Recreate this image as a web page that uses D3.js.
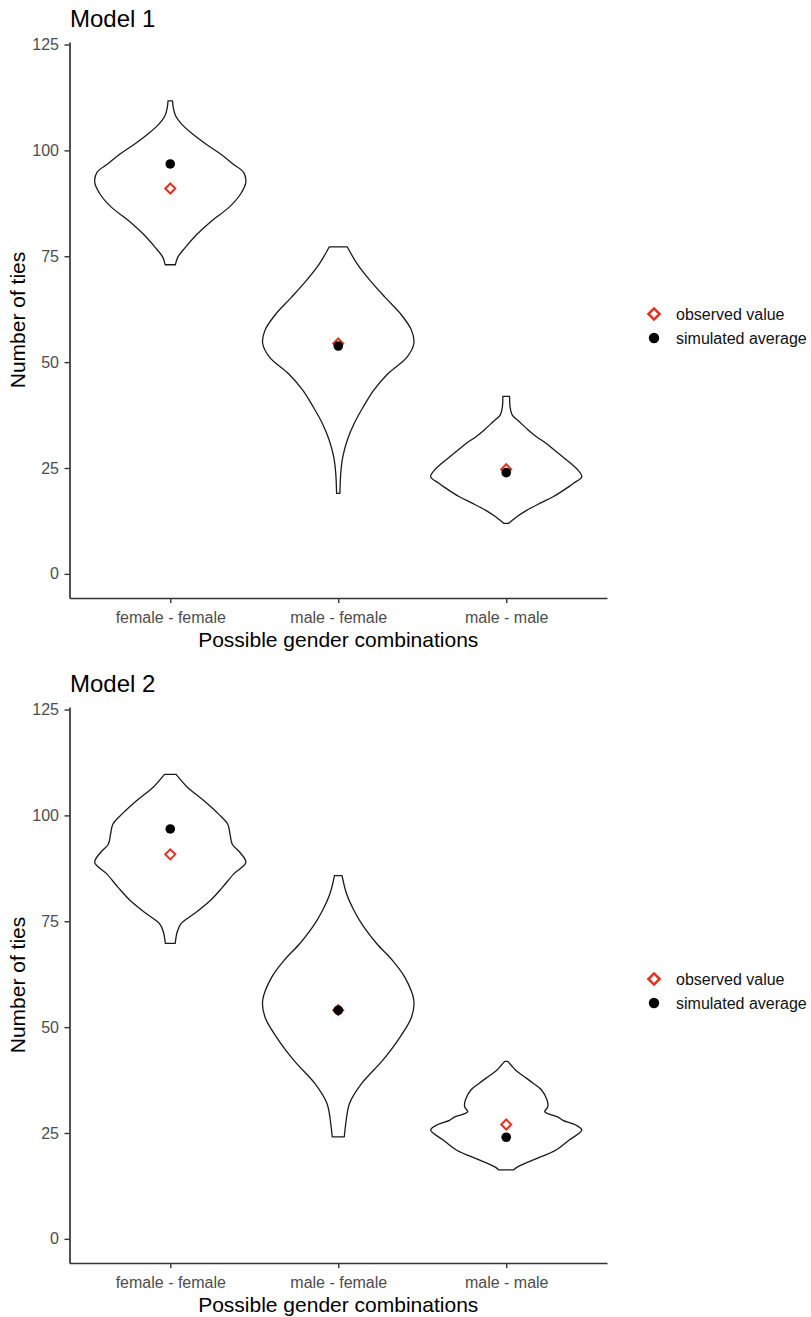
<!DOCTYPE html>
<html>
<head>
<meta charset="utf-8">
<script src="https://cdn.jsdelivr.net/npm/d3@7"></script>
<style>
  html, body { margin: 0; padding: 0; background: #fff; }
  svg { display: block; font-family: "Liberation Sans", Arial, sans-serif; }
</style>
</head>
<body>
<svg id="chart" width="811" height="1317"></svg>
<script>
// ---------------- DATA ----------------
const categories = ["female - female", "male - female", "male - male"];
const yTicks = [0, 25, 50, 75, 100, 125];
const modelTitles = ["Model 1", "Model 2"];
const legendLabels = ["observed value", "simulated average"];
const xAxisTitle = "Possible gender combinations";
const yAxisTitle = "Number of ties";

const observedM1 = [91.0, 54.4, 24.7];
const simulatedM1 = [96.8, 53.8, 23.9];
const observedM2 = [90.8, 54.0, 27.0];
const simulatedM2 = [96.8, 54.0, 24.0];

// violin profiles: [number of ties, relative density (max = 1)]
const violinM1FF = [[111.7,0.03],[110.1,0.04],[108.2,0.07],[106.2,0.15],[103.8,0.30],[101.5,0.47],[99.1,0.67],[96.8,0.83],[94.8,0.97],[92.5,1.0],[89.7,0.93],[86.6,0.78],[83.4,0.55],[80.3,0.36],[77.1,0.20],[74.8,0.10],[73.0,0.068]];
const violinM1MF = [[77.2,0.12],[73.2,0.25],[69.3,0.42],[65.3,0.62],[61.5,0.82],[57.5,0.97],[54.4,1.0],[51.2,0.91],[47.3,0.66],[43.4,0.47],[39.4,0.33],[35.5,0.21],[31.6,0.12],[27.6,0.06],[23.7,0.033],[19.0,0.022]];
const violinM1MM = [[41.9,0.045],[39.5,0.05],[37.5,0.08],[36.0,0.17],[34.0,0.29],[32.4,0.40],[30.8,0.53],[29.2,0.64],[27.6,0.75],[26.0,0.86],[24.5,0.95],[22.9,1.0],[21.5,0.9],[20.6,0.83],[18.2,0.62],[16.7,0.45],[15.0,0.27],[13.5,0.14],[12.5,0.07],[11.9,0.03]];
const violinM2FF = [[109.7,0.077],[106.6,0.23],[103.4,0.45],[100.3,0.64],[97.9,0.76],[95.6,0.79],[93.2,0.82],[91.3,0.92],[88.9,1.0],[86.2,0.84],[83.0,0.69],[79.9,0.53],[76.7,0.31],[74.4,0.14],[72.4,0.09],[69.8,0.066]];
const violinM2MF = [[85.8,0.05],[81.5,0.11],[77.5,0.21],[73.6,0.34],[69.7,0.51],[65.7,0.72],[61.8,0.88],[56.3,1.0],[52.4,0.97],[47.7,0.82],[42.2,0.59],[36.7,0.31],[32.0,0.15],[27.3,0.10],[24.1,0.08]];
const violinM2MM = [[41.9,0.02],[41.0,0.066],[39.8,0.125],[38.3,0.24],[36.7,0.36],[35.1,0.47],[32.8,0.54],[31.2,0.55],[30.0,0.51],[28.8,0.68],[28.0,0.75],[26.9,0.92],[25.7,1.0],[23.3,0.83],[21.0,0.66],[18.6,0.35],[17.0,0.15],[16.3,0.10]];

const panels = [
  { title: modelTitles[0], violins: [violinM1FF, violinM1MF, violinM1MM], observed: observedM1, simulated: simulatedM1 },
  { title: modelTitles[1], violins: [violinM2FF, violinM2MF, violinM2MM], observed: observedM2, simulated: simulatedM2 }
];

// ---------------- LAYOUT ----------------
const svg = d3.select("#chart");
const panelH = 665;
const plotLeft = 69.5, plotRight = 607;
const plotTop = 42, plotBottom = 598;
const red = "#e2321f";
const tickCol = "#4d4d4d";
const axisCol = "#333333";

const x = d3.scalePoint().domain(categories).range([plotLeft, plotRight]).padding(0.6);
const halfWidth = d3.scaleLinear().domain([0, 1]).range([0, 0.45 * x.step()]);

const diamond = (s) => `M0,${-s}L${s},0L0,${s}L${-s},0Z`;

panels.forEach((p, i) => {
  const g = svg.append("g").attr("transform", `translate(0,${i * panelH})`);
  const y = d3.scaleLinear().domain([-5.7, 125.6]).range([plotBottom, plotTop]);

  // title
  g.append("text").attr("x", 70).attr("y", 26.7)
    .attr("font-size", 24).attr("fill", "#000").text(p.title);

  // violins
  p.violins.forEach((v, k) => {
    const cx = x(categories[k]);
    const area = d3.area()
      .y(d => y(d[0]))
      .x0(d => cx - halfWidth(d[1]))
      .x1(d => cx + halfWidth(d[1]))
      .curve(d3.curveCatmullRom.alpha(0.5));
    g.append("path").attr("d", area(v))
      .attr("fill", "#fff").attr("stroke", "#1a1a1a").attr("stroke-width", 1.3)
      .attr("stroke-linejoin", "round");
  });

  // observed (open red diamonds)
  g.selectAll(".obs").data(p.observed).enter().append("path")
    .attr("transform", (d, k) => `translate(${x(categories[k])},${y(d)})`)
    .attr("d", diamond(5))
    .attr("fill", "none").attr("stroke", red).attr("stroke-width", 2);

  // simulated (black dots)
  g.selectAll(".sim").data(p.simulated).enter().append("circle")
    .attr("cx", (d, k) => x(categories[k])).attr("cy", d => y(d))
    .attr("r", 4.8).attr("fill", "#000");

  // y axis
  const ya = g.append("g").attr("transform", `translate(${plotLeft},0)`)
    .call(d3.axisLeft(y).tickValues(yTicks).tickSize(5).tickSizeOuter(0).tickPadding(5.5));
  ya.select(".domain").attr("stroke", axisCol).attr("stroke-width", 1.7);
  ya.selectAll(".tick line").attr("stroke", axisCol).attr("stroke-width", 1.4);
  ya.selectAll(".tick text").attr("fill", tickCol).attr("font-size", 16)
    .attr("font-family", "Liberation Sans, Arial, sans-serif");

  // x axis
  const xa = g.append("g").attr("transform", `translate(0,${plotBottom})`)
    .call(d3.axisBottom(x).tickSize(5).tickSizeOuter(0).tickPadding(9));
  xa.select(".domain").attr("stroke", axisCol).attr("stroke-width", 1.7);
  xa.selectAll(".tick line").attr("stroke", axisCol).attr("stroke-width", 1.4);
  xa.selectAll(".tick text").attr("fill", tickCol).attr("font-size", 16)
    .attr("font-family", "Liberation Sans, Arial, sans-serif");

  // axis titles
  g.append("text").attr("x", (plotLeft + plotRight) / 2).attr("y", 646.7)
    .attr("text-anchor", "middle").attr("font-size", 21).attr("fill", "#000")
    .text(xAxisTitle);
  g.append("text").attr("transform", `translate(25,${(plotTop + plotBottom) / 2}) rotate(-90)`)
    .attr("text-anchor", "middle").attr("font-size", 21).attr("fill", "#000")
    .text(yAxisTitle);

  // legend
  const lg = g.append("g").attr("transform", "translate(654,314)");
  lg.append("path").attr("d", diamond(5.6))
    .attr("fill", "none").attr("stroke", red).attr("stroke-width", 2.5);
  lg.append("circle").attr("cx", 0).attr("cy", 24).attr("r", 5.2).attr("fill", "#000");
  lg.selectAll(".lt").data(legendLabels).enter().append("text")
    .attr("x", 22).attr("y", (d, k) => k * 24).attr("dy", "0.35em")
    .attr("font-size", 16).attr("fill", "#111").text(d => d);
});
</script>
</body>
</html>
